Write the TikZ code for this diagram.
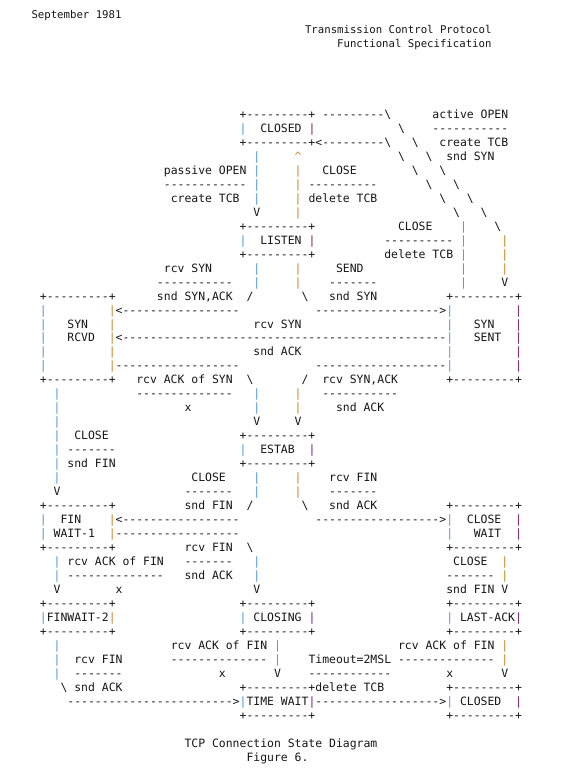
\documentclass[tikz,border=0pt]{standalone}
\usepackage{fontspec}
\newfontfamily\dm{DejaVu Sans Mono}
\newcommand\dmfont{\dm\fontsize{8.58pt}{10pt}\selectfont}
\newcommand\hdfont{\dm\fontsize{8.01pt}{10pt}\selectfont}
\definecolor{tcol}{RGB}{22,22,22}
\definecolor{cblue}{RGB}{78,150,222}
\definecolor{corange}{RGB}{204,134,38}
\definecolor{cpurple}{RGB}{130,28,108}
\ExplSyntaxOn
\cs_new:Npn \mydashes #1 { \prg_replicate:nn {#1} {-} }
\ExplSyntaxOff
\newcommand\dsh[1]{\mydashes{#1}}
\newcommand\Bsl{\textbackslash}
\newcommand\pipB{\textcolor{cblue}{|}}
\newcommand\pipO{\textcolor{corange}{|}}
\newcommand\pipP{\textcolor{cpurple}{|}}
\tikzset{
  dtext/.style={anchor=base west, inner sep=0pt, outer sep=0pt, font=\dmfont, text=tcol},
  htext/.style={inner sep=0pt, outer sep=0pt, font=\hdfont, text=tcol}
}
% place text at line #1, column #2
\newcommand\cc[3]{\node[dtext] (t#1-#2) at ({33+#2*6.8875},{118.3+13.98*#1}) {#3};}
\begin{document}
\begin{tikzpicture}[x=0.75pt,y=-0.75pt]
\fill[white] (0,0) rectangle (563,777);
\useasboundingbox (0,0) rectangle (563,777);
% header
\node[htext, anchor=base west] (hdate) at (31.5,19) {September 1981};
\node[htext, anchor=base east] (htitle) at (491.5,33.3) {Transmission Control Protocol};
\node[htext, anchor=base east] (hsub) at (491.5,47.3) {Functional Specification};
% diagram
\cc{0}{30}{+\dsh{9}+}\cc{0}{42}{\dsh{9}\Bsl}\cc{0}{58}{active OPEN}
\cc{1}{30}{\pipB}\cc{1}{33}{CLOSED}\cc{1}{40}{\pipP}\cc{1}{53}{\Bsl}\cc{1}{58}{\dsh{11}}
\cc{2}{30}{+\dsh{9}+<\dsh{9}\Bsl}\cc{2}{55}{\Bsl}\cc{2}{59}{create TCB}
\cc{3}{32}{\pipB}\cc{3}{38}{\textcolor{corange}{\textasciicircum}}\cc{3}{53}{\Bsl}\cc{3}{57}{\Bsl}\cc{3}{60}{snd SYN}
\cc{4}{19}{passive OPEN}\cc{4}{32}{\pipB}\cc{4}{38}{\pipO}\cc{4}{42}{CLOSE}\cc{4}{55}{\Bsl}\cc{4}{59}{\Bsl}
\cc{5}{19}{\dsh{12}}\cc{5}{32}{\pipB}\cc{5}{38}{\pipO}\cc{5}{40}{\dsh{10}}\cc{5}{57}{\Bsl}\cc{5}{61}{\Bsl}
\cc{6}{20}{create TCB}\cc{6}{32}{\pipB}\cc{6}{38}{\pipO}\cc{6}{40}{delete TCB}\cc{6}{59}{\Bsl}\cc{6}{63}{\Bsl}
\cc{7}{32}{V}\cc{7}{38}{\pipO}\cc{7}{61}{\Bsl}\cc{7}{65}{\Bsl}
\cc{8}{30}{+\dsh{9}+}\cc{8}{53}{CLOSE}\cc{8}{62}{\pipB}\cc{8}{67}{\Bsl}
\cc{9}{30}{\pipB}\cc{9}{33}{LISTEN}\cc{9}{40}{\pipP}\cc{9}{51}{\dsh{10}}\cc{9}{62}{\pipB}\cc{9}{68}{\pipO}
\cc{10}{30}{+\dsh{9}+}\cc{10}{51}{delete TCB}\cc{10}{62}{\pipB}\cc{10}{68}{\pipO}
\cc{11}{19}{rcv SYN}\cc{11}{32}{\pipB}\cc{11}{38}{\pipO}\cc{11}{44}{SEND}\cc{11}{62}{\pipB}\cc{11}{68}{\pipO}
\cc{12}{18}{\dsh{11}}\cc{12}{32}{\pipB}\cc{12}{38}{\pipO}\cc{12}{43}{\dsh{7}}\cc{12}{62}{\pipB}\cc{12}{68}{V}
\cc{13}{1}{+\dsh{9}+}\cc{13}{18}{snd SYN,ACK}\cc{13}{31}{/}\cc{13}{39}{\Bsl}\cc{13}{43}{snd SYN}\cc{13}{60}{+\dsh{9}+}
\cc{14}{1}{\pipB}\cc{14}{11}{\pipO<\dsh{17}}\cc{14}{41}{\dsh{18}>\pipB}\cc{14}{70}{\pipP}
\cc{15}{1}{\pipB}\cc{15}{5}{SYN}\cc{15}{11}{\pipO}\cc{15}{32}{rcv SYN}\cc{15}{60}{\pipB}\cc{15}{64}{SYN}\cc{15}{70}{\pipP}
\cc{16}{1}{\pipB}\cc{16}{5}{RCVD}\cc{16}{11}{\pipO<\dsh{47}\pipB}\cc{16}{64}{SENT}\cc{16}{70}{\pipP}
\cc{17}{1}{\pipB}\cc{17}{11}{\pipO}\cc{17}{32}{snd ACK}\cc{17}{60}{\pipB}\cc{17}{70}{\pipP}
\cc{18}{1}{\pipB}\cc{18}{11}{\pipO\dsh{18}}\cc{18}{41}{\dsh{19}\pipB}\cc{18}{70}{\pipP}
\cc{19}{1}{+\dsh{9}+}\cc{19}{15}{rcv ACK of SYN}\cc{19}{31}{\Bsl}\cc{19}{39}{/}\cc{19}{42}{rcv SYN,ACK}\cc{19}{60}{+\dsh{9}+}
\cc{20}{3}{\pipB}\cc{20}{15}{\dsh{14}}\cc{20}{32}{\pipB}\cc{20}{38}{\pipO}\cc{20}{42}{\dsh{11}}
\cc{21}{3}{\pipB}\cc{21}{22}{x}\cc{21}{32}{\pipB}\cc{21}{38}{\pipO}\cc{21}{44}{snd ACK}
\cc{22}{3}{\pipB}\cc{22}{32}{V}\cc{22}{38}{V}
\cc{23}{3}{\pipB}\cc{23}{6}{CLOSE}\cc{23}{30}{+\dsh{9}+}
\cc{24}{3}{\pipB}\cc{24}{5}{\dsh{7}}\cc{24}{30}{\pipB}\cc{24}{33}{ESTAB}\cc{24}{40}{\pipP}
\cc{25}{3}{\pipB}\cc{25}{5}{snd FIN}\cc{25}{30}{+\dsh{9}+}
\cc{26}{3}{\pipB}\cc{26}{23}{CLOSE}\cc{26}{32}{\pipB}\cc{26}{38}{\pipO}\cc{26}{43}{rcv FIN}
\cc{27}{3}{V}\cc{27}{22}{\dsh{7}}\cc{27}{32}{\pipB}\cc{27}{38}{\pipO}\cc{27}{43}{\dsh{7}}
\cc{28}{1}{+\dsh{9}+}\cc{28}{22}{snd FIN}\cc{28}{31}{/}\cc{28}{39}{\Bsl}\cc{28}{43}{snd ACK}\cc{28}{60}{+\dsh{9}+}
\cc{29}{1}{\pipB}\cc{29}{4}{FIN}\cc{29}{11}{\pipO<\dsh{17}}\cc{29}{41}{\dsh{18}>\pipB}\cc{29}{63}{CLOSE}\cc{29}{70}{\pipP}
\cc{30}{1}{\pipB}\cc{30}{3}{WAIT-1}\cc{30}{11}{\pipO\dsh{18}}\cc{30}{60}{\pipB}\cc{30}{64}{WAIT}\cc{30}{70}{\pipP}
\cc{31}{1}{+\dsh{9}+}\cc{31}{22}{rcv FIN}\cc{31}{31}{\Bsl}\cc{31}{60}{+\dsh{9}+}
\cc{32}{3}{\pipB}\cc{32}{5}{rcv ACK of FIN}\cc{32}{22}{\dsh{7}}\cc{32}{32}{\pipB}\cc{32}{61}{CLOSE}\cc{32}{68}{\pipO}
\cc{33}{3}{\pipB}\cc{33}{5}{\dsh{14}}\cc{33}{22}{snd ACK}\cc{33}{32}{\pipB}\cc{33}{60}{\dsh{7}}\cc{33}{68}{\pipO}
\cc{34}{3}{V}\cc{34}{12}{x}\cc{34}{32}{V}\cc{34}{60}{snd FIN}\cc{34}{68}{V}
\cc{35}{1}{+\dsh{9}+}\cc{35}{30}{+\dsh{9}+}\cc{35}{60}{+\dsh{9}+}
\cc{36}{1}{\pipB FINWAIT-2\pipO}\cc{36}{30}{\pipB}\cc{36}{32}{CLOSING}\cc{36}{40}{\pipP}\cc{36}{60}{\pipB}\cc{36}{62}{LAST-ACK\pipP}
\cc{37}{1}{+\dsh{9}+}\cc{37}{30}{+\dsh{9}+}\cc{37}{60}{+\dsh{9}+}
\cc{38}{3}{\pipB}\cc{38}{20}{rcv ACK of FIN}\cc{38}{35}{\pipB}\cc{38}{53}{rcv ACK of FIN}\cc{38}{68}{\pipO}
\cc{39}{3}{\pipB}\cc{39}{6}{rcv FIN}\cc{39}{20}{\dsh{14}}\cc{39}{35}{\pipB}\cc{39}{40}{Timeout=2MSL}\cc{39}{53}{\dsh{14}}\cc{39}{68}{\pipO}
\cc{40}{3}{\pipB}\cc{40}{6}{\dsh{7}}\cc{40}{27}{x}\cc{40}{35}{V}\cc{40}{40}{\dsh{12}}\cc{40}{60}{x}\cc{40}{68}{V}
\cc{41}{4}{\Bsl}\cc{41}{6}{snd ACK}\cc{41}{30}{+\dsh{9}+delete TCB}\cc{41}{60}{+\dsh{9}+}
\cc{42}{5}{\dsh{24}>\pipB TIME WAIT\pipP\dsh{18}>\pipB}\cc{42}{62}{CLOSED}\cc{42}{70}{\pipP}
\cc{43}{30}{+\dsh{9}+}\cc{43}{60}{+\dsh{9}+}
% caption
\cc{45}{22}{TCP Connection State Diagram}
\cc{46}{31}{Figure 6.}
\end{tikzpicture}
\end{document}
